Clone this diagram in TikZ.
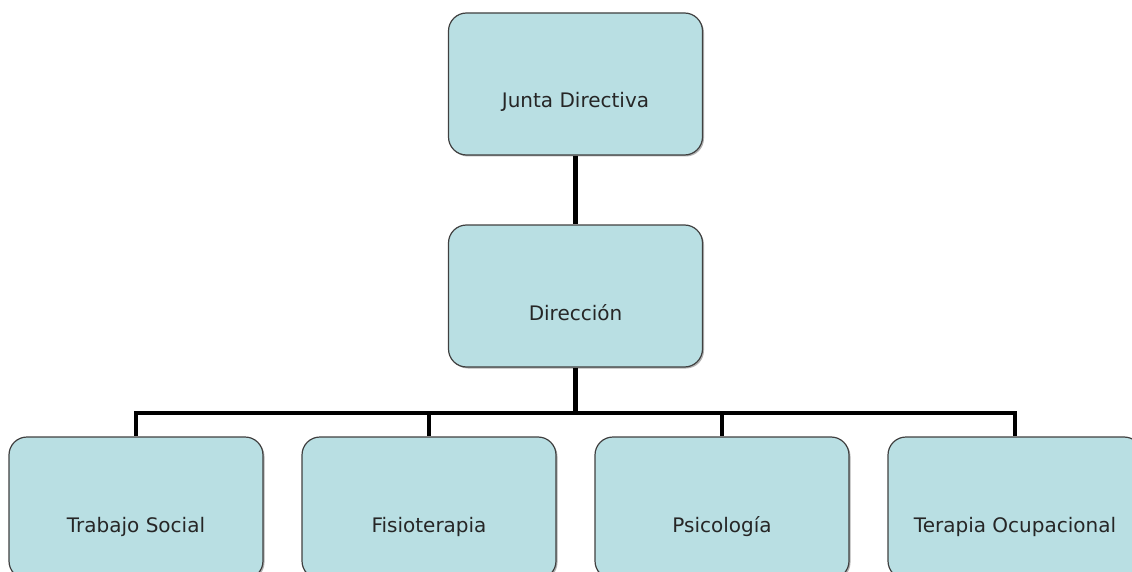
\documentclass[tikz,border=0pt]{standalone}
\usepackage{fontspec}
\setmainfont{DejaVu Sans}
\usepackage{xcolor}
\usetikzlibrary{positioning,shadows}
\definecolor{boxblue}{RGB}{185,223,227}
\definecolor{boxline}{RGB}{64,64,64}

\begin{document}
\begin{tikzpicture}[x=1pt,y=-1pt,
  area/.style={draw=boxline,line width=1.2pt,fill=boxblue,rounded corners=18pt,
    minimum width=254pt,minimum height=142pt,text height=48pt,text depth=0pt,
    text=black!85,font=\fontsize{20}{24}\selectfont,
    drop shadow={shadow xshift=1.5pt,shadow yshift=-1.5pt,fill=black!30,opacity=1}},
  link/.style={line width=4.5pt}]
\useasboundingbox (0,0) rectangle (1132,572);
\node[area] (junta) at (575.5,84) {Junta Directiva};
\node[area] (dir) at (575.5,296) {Dirección};
\node[area] (ts) at (136,508) {Trabajo Social};
\node[area] (fis) at (429,508) {Fisioterapia};
\node[area] (psi) at (722,508) {Psicología};
\node[area] (ter) at (1015,508) {Terapia Ocupacional};
%
\coordinate (bus) at (575.5,413);
\draw[link] (junta) -- (dir);
\draw[link] (dir) -- (bus);
\draw[link] (bus) -| (ts);
\draw[link] (bus) -| (fis);
\draw[link] (bus) -| (psi);
\draw[link] (bus) -| (ter);
\end{tikzpicture}
\end{document}
